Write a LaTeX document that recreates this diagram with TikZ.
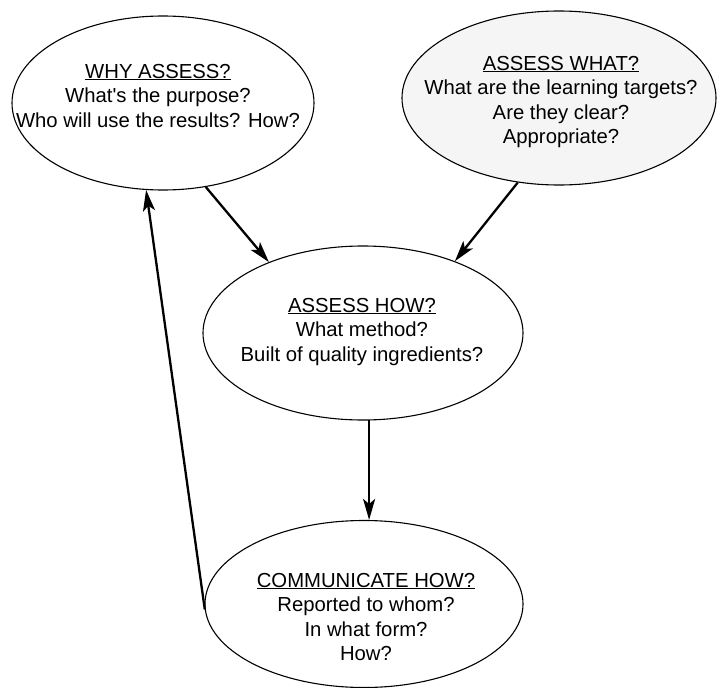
\documentclass[tikz,border=0pt]{standalone}
\usepackage{fontspec}
\setmainfont{Liberation Sans}
\usetikzlibrary{shapes.geometric,arrows.meta}
\tikzset{
  bubble/.style={ellipse, draw, line width=1.1pt, inner sep=0pt},
  label/.style={anchor=base, inner sep=0pt, font=\fontsize{20.3}{24.5}\selectfont},
  flow/.style={line width=2.3pt, -{Stealth[length=21pt,width=12pt,inset=5pt]}},
}
\newcommand{\lines}[1]{\setlength{\tabcolsep}{0pt}\begin{tabular}[t]{c}#1\end{tabular}}
\begin{document}
\begin{tikzpicture}[x=1pt,y=-1pt]
\useasboundingbox (0,0) rectangle (718,688);
\node[bubble, minimum width=302pt, minimum height=174pt] (why) at (163,103) {};
\node[bubble, fill=black!4, minimum width=314pt, minimum height=174pt] (what) at (559,98) {};
\node[bubble, minimum width=320pt, minimum height=174pt] (how) at (363,333) {};
\node[bubble, minimum width=318pt, minimum height=167pt] (comm) at (364,604) {};

\node[label] (whyt) at (158,78) {\lines{\underline{WHY ASSESS?}\\What\textquotesingle s the purpose?\\Who will use the results? How?}};
\node[label] (whatt) at (561,70) {\lines{\underline{ASSESS WHAT?}\\What are the learning targets?\\Are they clear?\\Appropriate?}};
\node[label] (howt) at (362,312) {\lines{\underline{ASSESS HOW?}\\What method?\\Built of quality ingredients?}};
\node[label] (commt) at (366,587) {\lines{\underline{COMMUNICATE HOW?}\\Reported to whom?\\In what form?\\How?}};

\draw[flow] (why.-63.4) -- (how.143.9);
\draw[flow] (what.-116.3) -- (how.38.3);
\draw[flow] (how.-86) -- (how.-86 |- comm.north);
\draw[flow] (comm.182.2) -- (why.-101.1);
\end{tikzpicture}
\end{document}
